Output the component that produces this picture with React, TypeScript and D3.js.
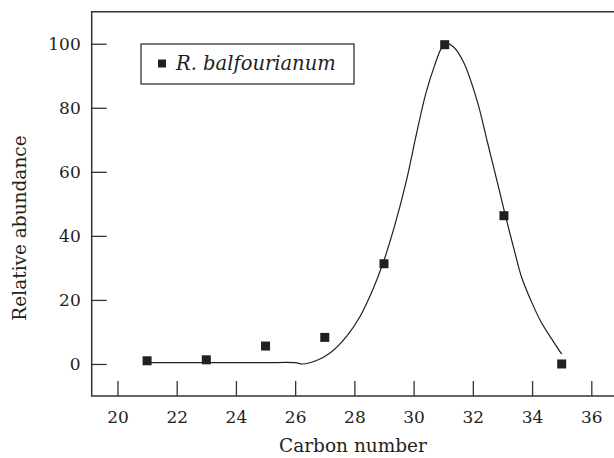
import * as d3 from "d3";
import { useEffect, useRef } from "react";

// measured points (carbon number, relative abundance)
const carbonNumbers = [21, 23, 25, 27, 29, 31.05, 33.05, 35];
const abundances = [1.0, 1.3, 5.6, 8.3, 31.3, 99.7, 46.3, 0];

// fitted curve
const curveX = [21, 22, 23, 24, 25, 26, 26.25, 26.7, 27.2, 27.75, 28.2, 28.62, 28.96, 29.37, 29.75, 30.1, 30.4, 30.7, 30.95, 31.1, 31.35, 31.7, 32.15, 32.5, 32.9, 33.1, 33.4, 33.65, 34.0, 34.3, 34.72, 35];
const curveY = [0.4, 0.4, 0.4, 0.4, 0.4, 0.4, 0.0, 1.0, 3.6, 8.8, 15.0, 23.2, 31.3, 43.5, 57, 72, 84, 93, 98.8, 100, 99, 94, 82, 69, 54, 46.3, 35.5, 27, 19, 13.2, 7.0, 3.1];

const xTicks = [20, 22, 24, 26, 28, 30, 32, 34, 36];
const yTicks = [0, 20, 40, 60, 80, 100];

const legendLabel = "R. balfourianum";
const xTitle = "Carbon number";
const yTitle = "Relative abundance";

const COLORS = {
  ink: "#231f20",
  axis: "#333333",
};

const FONT = "'DejaVu Serif', serif";

const width = 614;
const height = 458;

const App = () => {
  const svgRef = useRef<SVGSVGElement | null>(null);

  useEffect(() => {
    const svgEl = d3.select(svgRef.current);
    svgEl.selectAll("*").remove();

    const left = 91.7;
    const top = 11.7;
    const bottom = 396;

    const xScale = d3.scaleLinear().domain([19.13, 36.8]).range([left, 615]);
    const yScale = d3.scaleLinear().domain([-10, 110]).range([bottom, top]);

    // frame: left, top, bottom
    svgEl
      .append("path")
      .attr("d", `M${width + 2},${top}H${left}V${bottom}H${width + 2}`)
      .attr("fill", "none")
      .attr("stroke", COLORS.axis)
      .attr("stroke-width", 1.5);

    // x axis, ticks pointing inward
    const xAxis = d3
      .axisBottom(xScale)
      .tickValues(xTicks)
      .tickSize(-15)
      .tickSizeOuter(0)
      .tickPadding(15)
      .tickFormat(d3.format("d"));

    const gx = svgEl
      .append("g")
      .attr("transform", `translate(0, ${bottom})`)
      .call(xAxis);
    gx.select(".domain").remove();
    gx.selectAll("line").attr("stroke", COLORS.axis).attr("stroke-width", 1.3);
    gx.selectAll("text")
      .attr("font-family", FONT)
      .attr("font-size", 17)
      .attr("fill", COLORS.ink);

    const yAxis = d3
      .axisLeft(yScale)
      .tickValues(yTicks)
      .tickSize(-15)
      .tickSizeOuter(0)
      .tickPadding(11)
      .tickFormat(d3.format("d"));

    const gy = svgEl
      .append("g")
      .attr("transform", `translate(${left}, 0)`)
      .call(yAxis);
    gy.select(".domain").remove();
    gy.selectAll("line").attr("stroke", COLORS.axis).attr("stroke-width", 1.3);
    gy.selectAll("text")
      .attr("font-family", FONT)
      .attr("font-size", 17)
      .attr("fill", COLORS.ink);

    // fitted curve
    const curvePts: [number, number][] = curveX.map((x, i) => [x, curveY[i]]);
    const line = d3
      .line<[number, number]>()
      .x((d) => xScale(d[0]))
      .y((d) => yScale(d[1]))
      .curve(d3.curveCatmullRom.alpha(0.5));

    svgEl
      .append("path")
      .attr("d", line(curvePts))
      .attr("fill", "none")
      .attr("stroke", COLORS.ink)
      .attr("stroke-width", 1.2);

    // data squares
    const size = 9;
    svgEl
      .selectAll("rect.pt")
      .data(carbonNumbers)
      .enter()
      .append("rect")
      .attr("class", "pt")
      .attr("x", (d) => xScale(d) - size / 2)
      .attr("y", (d, i) => yScale(abundances[i]) - size / 2)
      .attr("width", size)
      .attr("height", size)
      .attr("fill", COLORS.ink);

    // legend
    svgEl
      .append("rect")
      .attr("x", 141)
      .attr("y", 44)
      .attr("width", 213)
      .attr("height", 40)
      .attr("fill", "#fff")
      .attr("stroke", COLORS.axis)
      .attr("stroke-width", 1.3);
    svgEl
      .append("rect")
      .attr("x", 158)
      .attr("y", 59.5)
      .attr("width", 8)
      .attr("height", 8)
      .attr("fill", COLORS.ink);
    svgEl
      .append("text")
      .attr("x", 176)
      .attr("y", 70)
      .attr("font-family", FONT)
      .attr("font-size", 19.5)
      .attr("font-style", "italic")
      .attr("fill", COLORS.ink)
      .text(legendLabel);

    // axis titles
    svgEl
      .append("text")
      .attr("x", 353)
      .attr("y", 452)
      .attr("font-family", FONT)
      .attr("font-size", 18.5)
      .attr("text-anchor", "middle")
      .attr("fill", COLORS.ink)
      .text(xTitle);

    svgEl
      .append("text")
      .attr("transform", "translate(26, 228) rotate(-90)")
      .attr("font-family", FONT)
      .attr("font-size", 18.5)
      .attr("text-anchor", "middle")
      .attr("fill", COLORS.ink)
      .text(yTitle);
  }, []);

  return (
    <svg
      ref={svgRef}
      width={width}
      height={height}
      style={{ position: "absolute", left: 0, top: 0, background: "#fff" }}
    />
  );
};

export default App;
